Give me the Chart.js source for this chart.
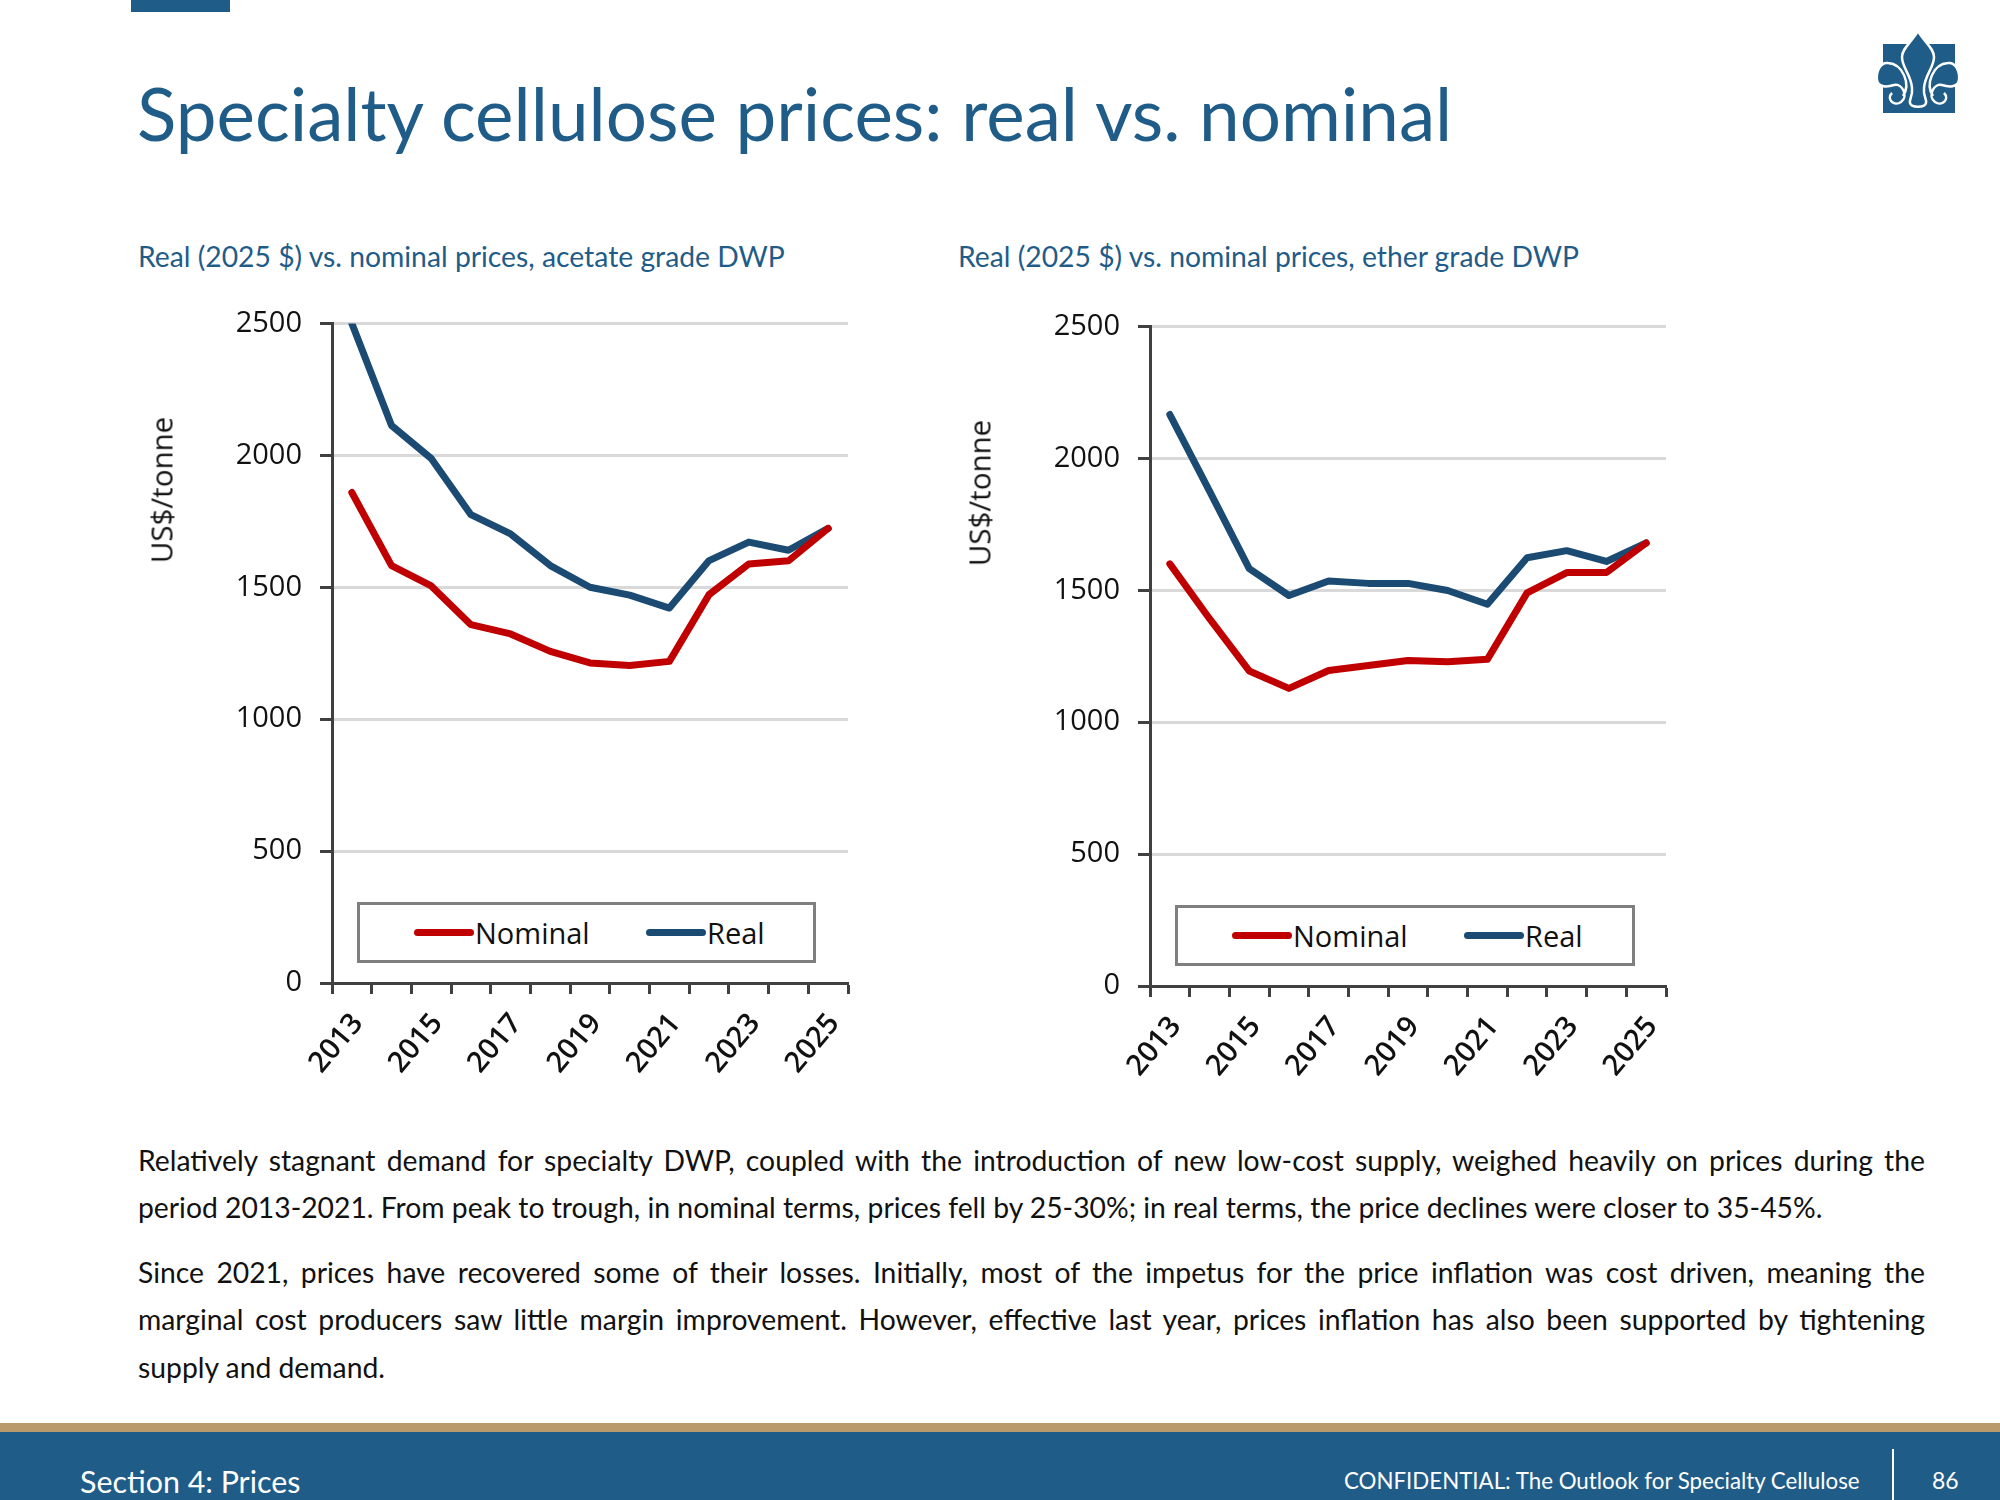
<!DOCTYPE html>
<html>
<head>
<meta charset="utf-8">
<title>Specialty cellulose prices</title>
<script src="https://cdn.jsdelivr.net/npm/chart.js@4/dist/chart.umd.min.js"></script>
<style>
  html, body { margin: 0; padding: 0; background: #fff; }
  #page { position: relative; width: 2000px; height: 1500px; overflow: hidden; font-family: Lato, sans-serif; }
  #page > * { position: absolute; }
  canvas { display: block; }
  .title { left: 137px; top: 69px; font-size: 72.8px; color: #1f5c88; white-space: nowrap; }
  .sub { top: 239px; font-size: 28.3px; color: #1f5c88; white-space: nowrap; }
  .ytitle { font-family: "Open Sans", sans-serif; font-size: 29.5px; color: #111; white-space: nowrap;
    transform: translate(-50%, -50%) rotate(-90deg); }
  .legend { box-sizing: border-box; border: 3px solid #7f7f7f; background: #fff;
    font-family: "Open Sans", sans-serif; font-size: 29px; color: #111; }
  .legend span { position: absolute; top: 50%; }
  .legend .swatch { height: 7px; margin-top: -4px; border-radius: 4px; width: 60px; }
  .legend .name { transform: translateY(-50%); margin-top: -1px; }
  .line { left: 138px; width: 1787px; font-size: 28.3px; color: #111; text-align: justify; text-align-last: justify; white-space: nowrap; }
  .line.last { text-align-last: left; width: auto; }
  .band { left: 0; width: 2000px; }
  .foot { color: #fff; white-space: nowrap; }
</style>
</head>
<body>
<div id="page">
  <div style="left:131px;top:0;width:99px;height:12px;background:#1f5c88"></div>
  <div class="title">Specialty cellulose prices: real vs. nominal</div>

  <svg style="left:1870px;top:25px" width="100" height="95" viewBox="1870 25 100 95">
    <rect x="1883" y="44" width="72" height="69" fill="#1f5c88"/>
    <g id="fleur" fill="#1f5c88" stroke="#fff" stroke-width="2.5">
      <path d="M1918 31 C1924 42 1934 48 1934 57 C1934 68 1925 74 1924 88 C1923 96 1927 99 1926 103 C1925 108 1911 108 1910 103 C1909 99 1913 96 1912 88 C1911 74 1902 68 1902 57 C1902 48 1912 42 1918 31 Z"/>
      <path d="M1933 96 C1925 84 1933 64 1948 63 C1956 62 1960 72 1959 80 C1958 88 1948 87 1942 85 C1934 83 1927 96 1935 102 C1942 107 1950 99 1944 93"/>
      <path d="M1903 96 C1911 84 1903 64 1888 63 C1880 62 1876 72 1877 80 C1878 88 1888 87 1894 85 C1902 83 1909 96 1901 102 C1894 107 1886 99 1892 93"/>
    </g>
  </svg>

  <div class="sub" style="left:138px">Real (2025 $) vs. nominal prices, acetate grade DWP</div>
  <div class="sub" style="left:958px">Real (2025 $) vs. nominal prices, ether grade DWP</div>

  <canvas id="acetateChart" width="760" height="812" style="left:120px;top:288px"></canvas>
  <canvas id="etherChart" width="760" height="812" style="left:938px;top:291px"></canvas>

  <div class="ytitle" style="left:161px;top:490px">US$/tonne</div>
  <div class="ytitle" style="left:979px;top:493px">US$/tonne</div>

  <div class="legend" id="acetateLegend" style="left:357px;top:902px;width:459px;height:61px"></div>
  <div class="legend" id="etherLegend" style="left:1175px;top:905px;width:460px;height:61px"></div>

  <div class="line" style="top:1143px">Relatively stagnant demand for specialty DWP, coupled with the introduction of new low-cost supply, weighed heavily on prices during the</div>
  <div class="line last" style="top:1190px">period 2013-2021. From peak to trough, in nominal terms, prices fell by 25-30%; in real terms, the price declines were closer to 35-45%.</div>
  <div class="line" style="top:1255px">Since 2021, prices have recovered some of their losses. Initially, most of the impetus for the price inflation was cost driven, meaning the</div>
  <div class="line" style="top:1302px">marginal cost producers saw little margin improvement. However, effective last year, prices inflation has also been supported by tightening</div>
  <div class="line last" style="top:1350px">supply and demand.</div>

  <div class="band" style="top:1423px;height:9px;background:#b89a6c"></div>
  <div class="band" style="top:1432px;height:68px;background:#1f5c88"></div>
  <div style="left:1892px;top:1449px;width:2px;height:51px;background:#fff"></div>
  <div class="foot" style="left:80px;top:1463px;font-size:30.4px">Section 4: Prices</div>
  <div class="foot" style="left:1344px;top:1467px;font-size:22.3px">CONFIDENTIAL: The Outlook for Specialty Cellulose</div>
  <div class="foot" style="left:1932px;top:1466px;font-size:23px">86</div>
</div>

<script>
var years = ['2013', '2014', '2015', '2016', '2017', '2018', '2019', '2020', '2021', '2022', '2023', '2024', '2025'];
var yearLabels = ['2013', '', '2015', '', '2017', '', '2019', '', '2021', '', '2023', '', '2025'];

var acetateNominal = [1859, 1582, 1505, 1358, 1323, 1257, 1213, 1203, 1219, 1472, 1588, 1600, 1723];
var acetateReal = [2500, 2113, 1988, 1775, 1702, 1582, 1500, 1470, 1421, 1601, 1671, 1640, 1723];
var etherNominal = [1600, 1392, 1194, 1128, 1196, 1215, 1234, 1229, 1238, 1490, 1567, 1567, 1679];
var etherReal = [2166, 1876, 1582, 1480, 1535, 1526, 1526, 1499, 1447, 1623, 1650, 1609, 1679];

var nominalColor = '#c00000';
var realColor = '#1b4b72';
var axisColor = '#404040';
var gridColor = '#d9d9d9';
var yFont = { family: '"Open Sans", sans-serif', size: 29 };
var xFont = { family: '"Open Sans", sans-serif', size: 29, weight: '600' };

function makeChart(canvasId, legendId, nominal, real) {
  var ctx = document.getElementById(canvasId).getContext('2d');
  var chart = new Chart(ctx, {
    type: 'line',
    data: {
      labels: years,
      datasets: [
        { label: 'Nominal', data: nominal, borderColor: nominalColor, backgroundColor: nominalColor },
        { label: 'Real', data: real, borderColor: realColor, backgroundColor: realColor }
      ]
    },
    options: {
      responsive: false,
      animation: false,
      layout: { padding: { top: 14, right: 32 } },
      elements: {
        point: { radius: 0 },
        line: { borderWidth: 7, tension: 0, borderCapStyle: 'round', borderJoinStyle: 'round' }
      },
      plugins: {
        legend: { display: false },
        tooltip: { enabled: false }
      },
      scales: {
        x: {
          offset: true,
          afterFit: function(scale) { scale.height = 117; },
          border: { color: axisColor, width: 3 },
          grid: { offset: true, drawOnChartArea: false, tickColor: axisColor, tickLength: 11, tickWidth: 3 },
          ticks: {
            autoSkip: false,
            minRotation: 50,
            maxRotation: 50,
            padding: 13,
            labelOffset: 6,
            color: '#111',
            font: xFont,
            callback: function(value, index) { return yearLabels[index]; }
          }
        },
        y: {
          min: 0,
          max: 2500,
          afterFit: function(scale) { scale.width = 212; },
          border: { color: axisColor, width: 3 },
          grid: { color: gridColor, lineWidth: 3, tickColor: axisColor, tickLength: 12, tickWidth: 3 },
          ticks: {
            stepSize: 500,
            padding: 18,
            color: '#111',
            font: yFont,
            callback: function(value) { return String(value); }
          }
        }
      }
    }
  });

  // boxed legend sitting inside the plot, built from the datasets
  var box = document.getElementById(legendId);
  var offsets = [54, 286];
  chart.data.datasets.forEach(function(ds, i) {
    var swatch = document.createElement('span');
    swatch.className = 'swatch';
    swatch.style.left = offsets[i] + 'px';
    swatch.style.background = ds.borderColor;
    box.appendChild(swatch);
    var name = document.createElement('span');
    name.className = 'name';
    name.style.left = (offsets[i] + 61) + 'px';
    name.textContent = ds.label;
    box.appendChild(name);
  });
}

makeChart('acetateChart', 'acetateLegend', acetateNominal, acetateReal);
makeChart('etherChart', 'etherLegend', etherNominal, etherReal);
</script>
</body>
</html>
